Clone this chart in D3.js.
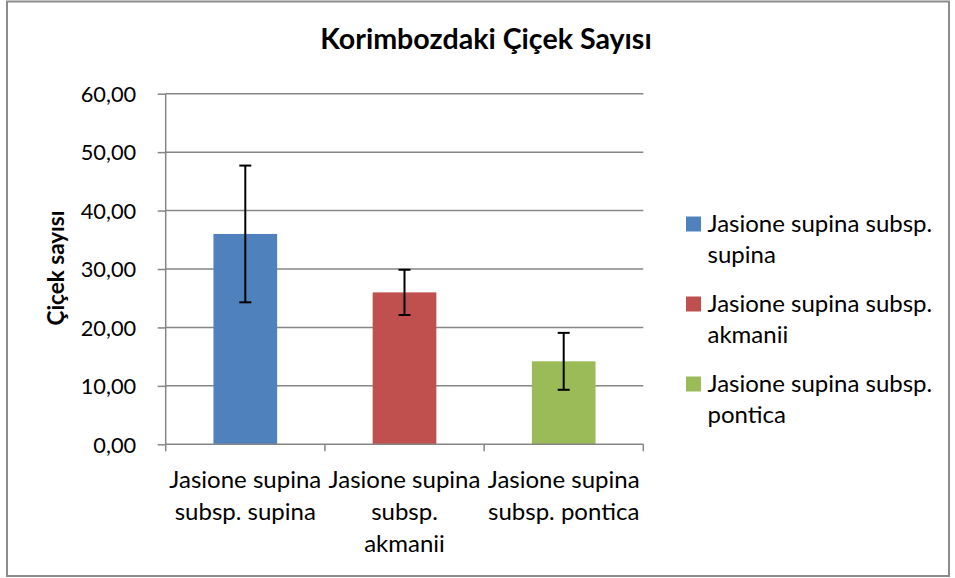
<!DOCTYPE html>
<html><head><meta charset="utf-8">
<script src="https://cdn.jsdelivr.net/npm/d3@7"></script>
<style>body{margin:0;background:#fff}svg{display:block}text{font-family:Lato,sans-serif;fill:#000}</style>
</head><body><svg id="c" width="955" height="578"></svg>
<script>
const categories = ["Jasione supina subsp. supina","Jasione supina subsp. akmanii","Jasione supina subsp. pontica"];
const xLabelLines = [["Jasione supina","subsp. supina"],["Jasione supina","subsp.","akmanii"],["Jasione supina","subsp. pontica"]];
const legendLines = [["Jasione supina subsp.","supina"],["Jasione supina subsp.","akmanii"],["Jasione supina subsp.","pontica"]];
const values = [36.0, 26.0, 14.2];
const errors = [11.7, 3.87, 4.87];
const colors = ["#4f81bd","#c0504d","#9bbb59"];
const yTicks = [0,10,20,30,40,50,60];
const title = "Korimbozdaki Çiçek Sayısı";
const yTitle = "Çiçek sayısı";

const svg = d3.select("#c");
svg.append("rect").attr("x",7).attr("y",1.5).attr("width",942).attr("height",574.5)
  .attr("fill","#fff").attr("stroke","#8c8c8c").attr("stroke-width",2);

const L=165.7, R=643.3, T=93.7, B=444.3;
const x = d3.scaleBand().domain(categories).range([L,R]).paddingInner(0.6).paddingOuter(0.3);
const y = d3.scaleLinear().domain([0,60]).range([B,T]);
const fmt = v => d3.format(".2f")(v).replace(".",",");

svg.append("g").selectAll("line").data(yTicks.filter(d=>d>0)).join("line")
  .attr("x1",L).attr("x2",R).attr("y1",d=>y(d)).attr("y2",d=>y(d))
  .attr("stroke","#868686").attr("stroke-width",1.5);

const yAxis = svg.append("g").attr("transform",`translate(${L},0)`)
  .call(d3.axisLeft(y).tickValues(yTicks).tickFormat(fmt).tickSize(8).tickPadding(21.5));
yAxis.select(".domain").attr("stroke","#868686").attr("stroke-width",1.5).attr("d",`M0,${T}V${B}`);
yAxis.selectAll(".tick line").attr("stroke","#868686").attr("stroke-width",1.5);
yAxis.selectAll(".tick text").attr("font-size",21.8).attr("font-family","Lato").attr("fill","#000").attr("dy","0.36em");

svg.append("g").selectAll("rect").data(categories).join("rect")
  .attr("x",d=>x(d)).attr("width",x.bandwidth())
  .attr("y",(d,i)=>y(values[i])).attr("height",(d,i)=>B-y(values[i]))
  .attr("fill",(d,i)=>colors[i]);

const bounds = [L, L+(R-L)/3, L+2*(R-L)/3, R];
svg.append("line").attr("x1",L).attr("x2",R).attr("y1",B).attr("y2",B).attr("stroke","#868686").attr("stroke-width",1.5);
svg.append("g").selectAll("line").data(bounds).join("line")
  .attr("x1",d=>d).attr("x2",d=>d).attr("y1",B).attr("y2",B+7)
  .attr("stroke","#868686").attr("stroke-width",1.5);

const eb = svg.append("g").attr("stroke","#000").attr("stroke-width",2);
categories.forEach((c,i)=>{
  const cx = x(c)+x.bandwidth()/2;
  const hi = y(values[i]+errors[i]), lo = y(values[i]-errors[i]);
  eb.append("line").attr("x1",cx).attr("x2",cx).attr("y1",hi).attr("y2",lo);
  eb.append("line").attr("x1",cx-6).attr("x2",cx+6).attr("y1",hi).attr("y2",hi);
  eb.append("line").attr("x1",cx-6).attr("x2",cx+6).attr("y1",lo).attr("y2",lo);
});

categories.forEach((c,i)=>{
  const cx = x(c)+x.bandwidth()/2;
  const t = svg.append("text").attr("text-anchor","middle").attr("font-size",24);
  xLabelLines[i].forEach((ln,j)=>{
    t.append("tspan").attr("x",cx).attr("y",488+j*32).text(ln);
  });
});

svg.append("text").attr("x",486).attr("y",48.5).attr("text-anchor","middle")
  .attr("font-size",28.6).attr("font-weight","bold").text(title);

svg.append("text").attr("transform","translate(64,268) rotate(-90)").attr("text-anchor","middle")
  .attr("font-size",22.5).attr("font-weight","bold").text(yTitle);

legendLines.forEach((lines,i)=>{
  const y0 = 232 + i*80;
  svg.append("rect").attr("x",686).attr("y",y0-15.5).attr("width",15).attr("height",15).attr("fill",colors[i]);
  const t = svg.append("text").attr("font-size",24);
  lines.forEach((ln,j)=>t.append("tspan").attr("x",707.5).attr("y",y0+j*31.3).text(ln));
});
</script></body></html>
